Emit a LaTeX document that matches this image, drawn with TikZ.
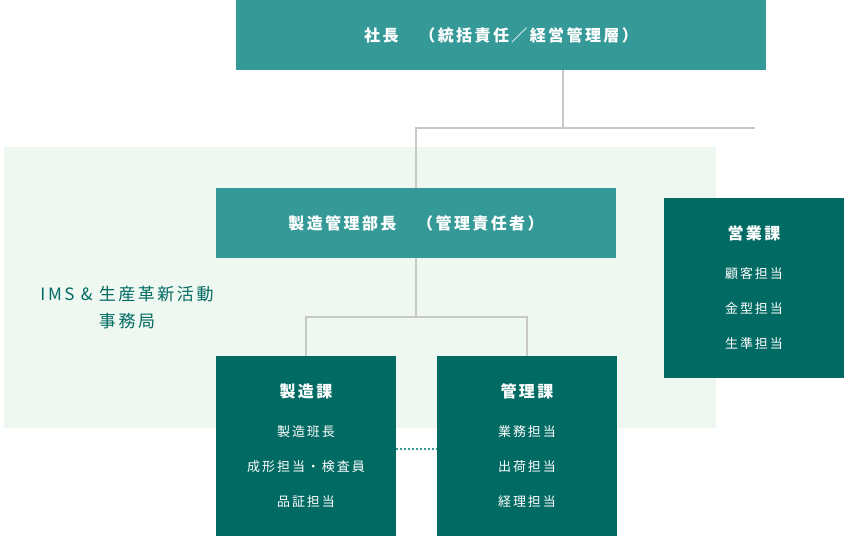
\documentclass[tikz,border=0pt]{standalone}
\usepackage{fontspec}
\setmainfont{Noto Sans CJK JP}[LetterSpace=15]
\usetikzlibrary{positioning}
\definecolor{headteal}{HTML}{359A97}
\definecolor{unitteal}{HTML}{006A63}
\definecolor{officebg}{HTML}{EEF8F1}
\definecolor{linkgray}{HTML}{C8C8C8}
\tikzset{
  headbox/.style={fill=headteal, text=white, minimum height=70pt, inner sep=0pt,
    font=\fontsize{16}{16}\selectfont\bfseries},
  unitbox/.style={fill=unitteal, text=white, minimum width=180pt, minimum height=180pt,
    inner sep=0pt, align=center, font=\fontsize{13}{35}\selectfont},
  linkline/.style={draw=linkgray, line width=2.5pt},
  liaison/.style={draw=headteal, line width=2pt, dash pattern=on 2pt off 2pt}
}
\newcommand{\unittitle}[1]{{\fontsize{16}{16}\selectfont\bfseries #1}\\[4pt]}

\begin{document}
\begin{tikzpicture}[x=1pt, y=-1pt]
  \useasboundingbox (0,0) rectangle (851,536);
  % IMS office area
  \fill[officebg] (4,147) rectangle (716,428);
  \node[text=unitteal, align=center, font=\fontsize{17}{27}\selectfont] (office) at (127,308)
    {IMS \& 生産革新活動\\事務局};
  % heads
  \node[headbox, minimum width=530pt] (shacho) at (501,35) {社長　（統括責任／経営管理層）};
  \node[headbox, minimum width=400pt] (bucho) at (416,223) {製造管理部長　（管理責任者）};
  % sections
  \node[unitbox] (eigyo) at (754,288) {\unittitle{営業課}顧客担当\\金型担当\\生準担当};
  \node[unitbox] (seizo) at (306,446) {\unittitle{製造課}製造班長\\成形担当・検査員\\品証担当};
  \node[unitbox] (kanri) at (527,446) {\unittitle{管理課}業務担当\\出荷担当\\経理担当};
  % connectors
  \coordinate (topjoint) at (563,128);
  \coordinate (topend) at (755,128);
  \coordinate (midjoint) at (416,317);
  \draw[linkline] (shacho.south -| topjoint) -- (topjoint);
  \draw[linkline] (bucho.north) -- (bucho.north |- topjoint) -- (topend);
  \draw[linkline] (bucho.south) -- (midjoint);
  \draw[linkline] (seizo.north) -- (seizo.north |- midjoint) -- (kanri.north |- midjoint) -- (kanri.north);
  \draw[liaison] ([yshift=-3pt]seizo.east) -- ([yshift=-3pt]kanri.west);
\end{tikzpicture}
\end{document}
